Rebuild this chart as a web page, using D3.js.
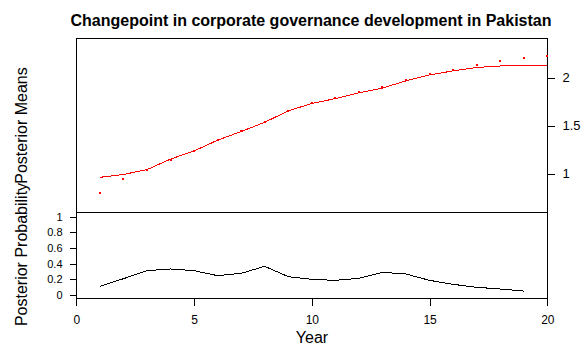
<!DOCTYPE html>
<html><head><meta charset="utf-8">
<script src="https://cdn.jsdelivr.net/npm/d3@7"></script>
<style>
html,body{margin:0;padding:0;background:#fff;}
svg{display:block;font-family:"Liberation Sans",Arial,sans-serif;}
</style></head>
<body>
<svg id="chart" width="586" height="356"></svg>
<script>
// ---- data ----
const years = [1,2,3,4,5,6,7,8,9,10,11,12,13,14,15,16,17,18,19,20];
const observed = [0.795,0.94,1.034,1.139,1.232,1.347,1.44,1.534,1.652,1.735,1.784,1.847,1.899,1.972,2.035,2.076,2.128,2.17,2.204,2.225];
const postMeans = [0.96,0.99,1.04,1.15,1.235,1.347,1.437,1.534,1.652,1.73,1.78,1.84,1.89,1.965,2.027,2.069,2.104,2.12,2.128,2.128];
const probYears = [1,2,3,4,5,6,7,8,9,10,11,12,13,14,15,16,17,18,19];
const postProb = [0.108,0.205,0.308,0.33,0.308,0.244,0.274,0.364,0.231,0.197,0.184,0.21,0.287,0.265,0.184,0.133,0.095,0.073,0.047];
const xTicks = [0,5,10,15,20];
const meanTicks = [1,1.5,2];
const probTicks = [0,0.2,0.4,0.6,0.8,1];
const title = "Changepoint in corporate governance development in Pakistan";

// ---- layout ----
const L = 76.5, R = 547.5, T = 38.5, M = 212.5, B = 298.5;
const svg = d3.select("#chart");

const x = d3.scaleLinear().domain([0,20]).range([76.3,547.3]);
const yTop = d3.scaleLinear().domain([1,2]).range([173.5,77.5]);
const yBot = d3.scaleLinear().domain([0,1]).range([294.7,216.7]);

// boxes
const frame = svg.append("g").attr("stroke","#000").attr("stroke-width",1).attr("shape-rendering","crispEdges");
frame.append("path").attr("fill","none")
  .attr("d",`M${L},${M}V${T}H${R}V${M}`);
frame.append("rect").attr("fill","none")
  .attr("x",L).attr("y",M).attr("width",R-L).attr("height",B-M);

// top panel: posterior means line + observed points
svg.append("path").datum(years.map((d,i)=>[d,postMeans[i]]))
  .attr("fill","none").attr("stroke","#ff0000").attr("stroke-width",1)
  .attr("shape-rendering","crispEdges")
  .attr("d", d3.line().x(d=>x(d[0])).y(d=>yTop(d[1])));
svg.append("g").selectAll("rect").data(years.map((d,i)=>[d,observed[i]])).join("rect")
  .attr("x",d=>Math.round(x(d[0]))-1).attr("y",d=>Math.round(yTop(d[1]))-1)
  .attr("width",2).attr("height",2).attr("fill","#ff0000");

// bottom panel: posterior probability
svg.append("path").datum(probYears.map((d,i)=>[d,postProb[i]]))
  .attr("fill","none").attr("stroke","#000").attr("stroke-width",1)
  .attr("shape-rendering","crispEdges")
  .attr("d", d3.line().x(d=>x(d[0])).y(d=>yBot(d[1])));

// axes
function styleAxis(g, size){
  g.select(".domain").remove();
  g.selectAll("line").attr("shape-rendering","crispEdges");
  g.selectAll("text").attr("fill","#000").style("font-family",'"Liberation Sans",Arial,sans-serif').style("font-size",size+"px");
}
svg.append("g").attr("transform",`translate(0,${B})`)
  .call(d3.axisBottom(x).tickValues(xTicks).tickSize(7).tickPadding(10).tickFormat(d3.format("d")))
  .call(g=>styleAxis(g,12));
svg.append("g").attr("transform",`translate(${R},0)`)
  .call(d3.axisRight(yTop).tickValues(meanTicks).tickSize(7).tickPadding(8).tickFormat(d=>String(d)))
  .call(g=>styleAxis(g,13));
svg.append("g").attr("transform",`translate(${L},0)`)
  .call(d3.axisLeft(yBot).tickValues(probTicks).tickSize(7).tickPadding(7).tickFormat(d=>String(d)))
  .call(g=>styleAxis(g,11));

// titles
svg.append("text").attr("x",311).attr("y",26).attr("text-anchor","middle")
  .attr("font-weight","bold").attr("font-size",16).attr("fill","#000").text(title);
svg.append("text").attr("x",312).attr("y",343).attr("text-anchor","middle")
  .attr("font-size",16).attr("fill","#000").text("Year");
svg.append("text").attr("transform",`translate(27,${(M+B)/2-1}) rotate(-90)`).attr("text-anchor","middle")
  .attr("font-size",16).attr("fill","#000").text("Posterior Probability");
svg.append("text").attr("transform",`translate(27,${(T+M)/2}) rotate(-90)`).attr("text-anchor","middle")
  .attr("font-size",16).attr("fill","#000").text("Posterior Means");
</script>
</body></html>
